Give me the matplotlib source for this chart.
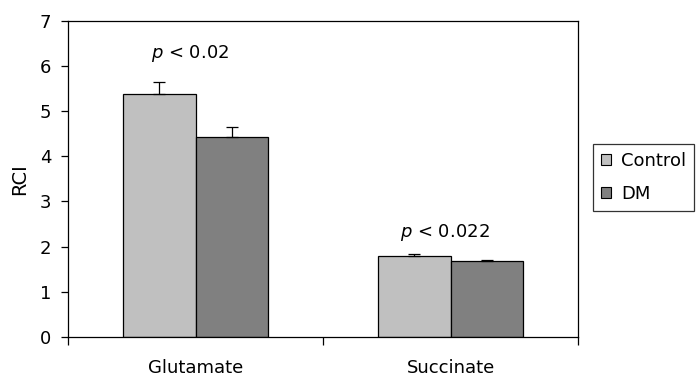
import matplotlib
matplotlib.use("Agg")
import matplotlib.pyplot as plt
from matplotlib.patches import Patch

categories = ["Glutamate", "Succinate"]
series = ["Control", "DM"]
control_vals = [5.38, 1.79]
dm_vals = [4.42, 1.69]
control_err = [0.26, 0.04]
dm_err = [0.22, 0.02]
pvals = ["< 0.02", "< 0.022"]
p_y = [6.28, 2.32]
colors = ["#c0c0c0", "#808080"]

plt.rcParams['font.family'] = ['DejaVu Sans']
plt.rcParams['mathtext.fontset'] = 'dejavusans'
FS = 13

fig = plt.figure(figsize=(6.96, 3.79), dpi=100)
ax = fig.add_axes([68/696, 1-337/379, (578-68)/696, (337-20.5)/379])

w = 0.286
xs = list(range(len(categories)))
for i, (vals, errs, c) in enumerate([(control_vals, control_err, colors[0]), (dm_vals, dm_err, colors[1])]):
    pos = [x + (i - 0.5) * w for x in xs]
    ax.bar(pos, vals, width=w, color=c, edgecolor="black", linewidth=0.9, zorder=2)
    ax.errorbar(pos, vals, yerr=[[0]*len(vals), errs], fmt="none", ecolor="black",
                elinewidth=0.9, capsize=4, capthick=0.9, zorder=3)

for x, p, py in zip(xs, pvals, p_y):
    ax.text(x - 0.02, py, r"$p$ " + p, ha="center", va="center", fontsize=FS)

ax.set_xlim(-0.5, 1.5)
ax.set_ylim(0, 7)
ax.set_yticks(range(0, 8))
ax.set_xticks([-0.5, 0.5, 1.5])
ax.set_xticklabels([])
ax.set_xticks(xs, minor=True)
ax.set_xticklabels(categories, minor=True, fontsize=FS)
ax.tick_params(axis="x", which="minor", length=0, pad=16)
ax.tick_params(axis="x", which="major", direction="out", length=6, width=0.9)
ax.tick_params(axis="y", direction="out", length=5, width=0.9, labelsize=FS, pad=7)
for s in ax.spines.values():
    s.set_linewidth(0.9)
ax.set_ylabel("RCI", fontsize=FS + 1, labelpad=8)

handles = [Patch(facecolor=c, edgecolor="black", linewidth=0.8, label=s) for s, c in zip(series, colors)]
leg = fig.legend(handles=handles, loc="upper left", bbox_to_anchor=(593/696, 1-144/379),
                 frameon=True, fancybox=False, edgecolor="black", fontsize=FS,
                 handlelength=0.55, handleheight=0.55, handletextpad=0.55,
                 borderpad=0.45, labelspacing=0.8, borderaxespad=0)
leg.get_frame().set_linewidth(0.9)

fig.savefig("out.png", dpi=100)
